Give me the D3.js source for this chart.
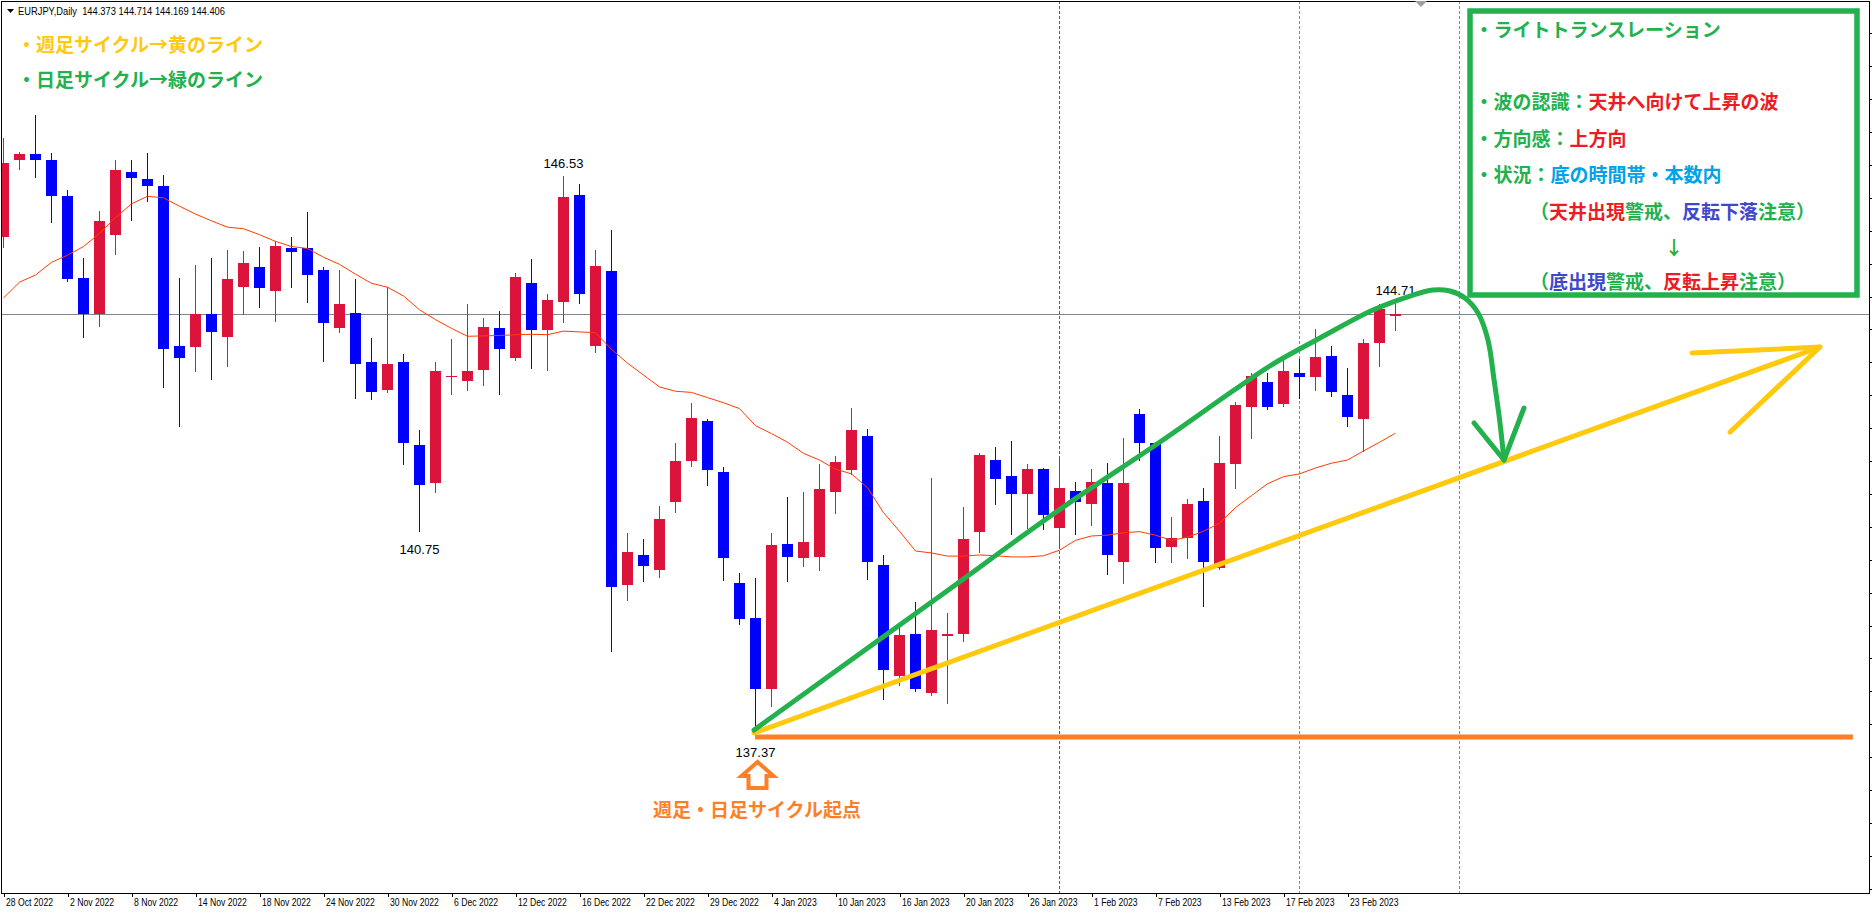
<!DOCTYPE html>
<html><head><meta charset="utf-8">
<script src="https://cdn.jsdelivr.net/npm/d3@7/dist/d3.min.js"></script>
<style>
html,body{margin:0;padding:0;background:#fff;overflow:hidden}
svg{display:block}
.jp{font-family:"Noto Sans CJK JP","Noto Sans CJK SC",sans-serif;font-weight:700;font-size:19px}
.small{font-family:"Liberation Sans",Arial,sans-serif;font-size:11px;fill:#000;white-space:pre}
.lbl{font-family:"Liberation Sans",Arial,sans-serif;font-size:13px;fill:#000}
</style></head><body>
<svg id="chart" width="1872" height="914"></svg>
<script>
// ---------------- data ----------------
const opens = [145.520,146.785,146.883,146.792,146.201,144.858,144.267,145.565,146.597,146.480,
146.363,143.741,143.715,144.267,143.891,144.708,145.039,144.644,145.338,145.338,
144.988,144.040,144.280,143.475,143.021,143.475,142.112,141.483,143.235,143.157,
143.339,144.027,143.534,144.773,144.008,144.468,146.221,143.741,144.968,139.821,
140.308,140.068,141.171,141.853,142.508,141.671,139.847,139.276,138.115,140.490,
140.250,140.269,141.347,141.697,142.262,140.146,138.316,139.010,138.037,138.971,
139.004,140.678,141.866,141.600,141.301,141.723,140.743,141.360,141.139,141.489,
140.198,142.625,142.145,140.445,140.587,141.197,140.101,141.794,142.729,143.151,
142.781,143.287,143.235,143.573,142.937,142.547,143.793,144.222];
const highs = [147.155,146.915,147.532,146.909,146.299,145.182,145.948,146.792,146.792,146.909,
146.545,144.858,145.065,145.182,145.319,145.299,145.364,145.455,145.526,145.942,
145.039,144.988,144.838,143.871,144.702,143.605,142.359,143.475,143.852,144.429,
144.196,144.306,144.936,145.169,144.592,146.530,146.396,145.319,145.643,140.672,
140.574,141.113,142.145,142.807,142.541,141.756,140.016,139.932,140.672,141.262,
141.340,141.801,141.937,142.723,142.372,140.302,139.108,139.536,141.574,139.354,
141.100,141.976,142.087,142.177,141.801,141.740,141.892,141.509,141.723,141.814,
142.229,142.703,142.158,140.925,141.230,141.412,142.268,142.820,143.287,143.300,
143.521,143.521,144.021,143.741,143.378,143.845,144.429,144.449];
const lows = [145.370,146.636,146.506,145.779,144.812,143.878,144.072,145.254,145.799,146.110,
143.060,142.417,143.320,143.203,143.410,144.267,144.377,144.150,144.708,144.462,
143.495,143.962,142.885,142.872,142.989,141.794,140.700,141.347,142.950,143.015,
143.099,142.956,143.508,143.372,143.339,144.137,144.436,143.644,138.738,139.575,
139.873,139.951,141.016,141.762,141.463,139.899,139.172,137.370,137.829,139.873,
140.133,140.068,140.990,141.632,139.919,137.952,138.180,138.082,138.017,137.874,
138.893,140.360,141.139,140.652,140.750,140.730,140.438,140.646,140.808,139.997,
139.841,141.859,140.198,140.198,140.256,139.465,140.081,141.399,142.223,142.710,
142.761,142.885,143.021,142.917,142.430,142.015,143.410,144.008];
const closes = [146.733,146.883,146.785,146.195,144.838,144.261,145.792,146.630,146.487,146.357,
143.696,143.534,144.267,143.962,144.838,145.104,144.689,145.383,145.286,144.903,
144.118,144.429,143.443,142.976,143.443,142.138,141.451,143.333,143.248,143.333,
144.053,143.696,144.871,143.995,144.494,146.188,144.585,145.052,139.789,140.360,
140.120,140.899,141.853,142.560,141.697,140.250,139.257,138.115,140.470,140.269,
140.522,141.392,141.833,142.359,140.185,138.413,138.997,138.102,139.075,139.004,
140.574,141.944,141.548,141.314,141.723,140.957,141.412,141.171,141.502,140.315,
141.489,142.138,140.419,140.587,141.145,140.198,141.820,142.774,143.248,142.742,
143.333,143.235,143.560,142.976,142.567,143.787,144.345,144.261];
const maValues = [144.527,144.786,144.903,145.111,145.228,145.370,145.585,145.844,146.071,146.195,
146.169,146.032,145.903,145.792,145.688,145.662,145.565,145.455,145.370,145.338,
145.195,145.078,144.916,144.767,144.702,144.559,144.332,144.170,144.027,143.897,
143.904,143.910,143.923,143.930,143.923,143.982,143.969,143.956,143.683,143.456,
143.261,143.066,142.995,142.976,142.891,142.807,142.710,142.430,142.301,142.158,
141.976,141.866,141.717,141.639,141.412,141.003,140.698,140.373,140.341,140.289,
140.289,140.308,140.295,140.276,140.276,140.295,140.386,140.548,140.620,140.633,
140.672,140.691,140.633,140.548,140.600,140.698,140.827,141.087,141.282,141.476,
141.593,141.639,141.736,141.814,141.866,142.015,142.158,142.307];
const dateLabels = ["28 Oct 2022","2 Nov 2022","8 Nov 2022","14 Nov 2022","18 Nov 2022","24 Nov 2022",
"30 Nov 2022","6 Dec 2022","12 Dec 2022","16 Dec 2022","22 Dec 2022","29 Dec 2022","4 Jan 2023",
"10 Jan 2023","16 Jan 2023","20 Jan 2023","26 Jan 2023","1 Feb 2023","7 Feb 2023","13 Feb 2023",
"17 Feb 2023","23 Feb 2023"];
const priceTicks = [148.87,148.33,147.79,147.25,146.71,146.17,145.63,145.09,144.55,144.01,143.47,142.93,
142.39,141.85,141.31,140.77,140.23,139.69,139.15,138.61,138.07,137.53,136.99,136.45,135.91,135.37,134.83];
const headerText = "EURJPY,Daily  144.373 144.714 144.169 144.406";
const markerBars = [66, 81, 91];
const markerKinds = ["red", "cyan", "cyan"];
const priceLabels = [["146.53", 35, "high"], ["140.75", 26, "low"], ["137.37", 47, "low"], ["144.71", 87, "high"]];
// hand-drawn annotations, in (bar index, price)
const greenWave = [[46.91,137.435],[58.53,139.635],[65.97,141.046],[72.28,142.162],[77.28,143.081],
[79.34,143.442],[82.28,143.869],[85.59,144.328],[87.91,144.558],[89.34,144.657],[90.41,144.640],
[91.34,144.525],[92.16,144.279],[92.78,143.836],[93.16,143.180],[93.53,142.474],[93.78,141.867]];
const greenHead = [[91.91,142.474],[93.78,141.867],[95.03,142.720]];
const yellowLine = [[46.91,137.386],[113.53,143.721]];
const yellowHead = [[105.53,143.623],[113.53,143.721],[107.91,142.326]];
const orangeLine = [[46.97,137.320],[115.59,137.320]];

// ---------------- colors ----------------
const G='#22B14C', R='#ED1C24', B='#3F48CC', S='#00A2E8', Y='#FFC90E', O='#FF7F27';
const UP='#DC143C', DN='#0000FF';

// ---------------- scales ----------------
const svg = d3.select('#chart');
const x = d3.scaleLinear().domain([0, 87]).range([3.5, 1395.5]);
const y = d3.scaleLinear().domain([134.76, 149.40]).range([893, 1]);
const plotL = 2, plotR = 1869, plotT = 1, plotB = 893;

svg.append('rect').attr('width',1872).attr('height',914).attr('fill','#fff');
svg.append('defs').append('clipPath').attr('id','plot').append('rect')
  .attr('x',plotL).attr('y',plotT).attr('width',plotR-plotL).attr('height',plotB-plotT);
const plot = svg.append('g').attr('clip-path','url(#plot)');

// vertical marker lines
plot.selectAll('line.vm').data(markerBars).join('line').attr('class','vm')
  .attr('x1',d=>x(d)).attr('x2',d=>x(d)).attr('y1',plotT).attr('y2',plotB)
  .attr('stroke',(d,i)=>markerKinds[i]==='red'?'#E3262B':'#1AAEEA')
  .attr('stroke-width',1).attr('stroke-dasharray','3,2').attr('shape-rendering','crispEdges');

// bid line
const bidY = Math.round(y(closes[closes.length-1])) + 0.5;
plot.append('line').attr('x1',plotL).attr('x2',plotR).attr('y1',bidY).attr('y2',bidY)
  .attr('stroke','#7d8790').attr('stroke-width',1).attr('shape-rendering','crispEdges');

// candles
const idx = d3.range(opens.length);
const cg = plot.append('g').attr('shape-rendering','crispEdges');
cg.selectAll('line.w').data(idx).join('line').attr('class','w')
  .attr('x1',i=>x(i)).attr('x2',i=>x(i))
  .attr('y1',i=>Math.round(y(highs[i]))).attr('y2',i=>Math.round(y(lows[i]))+1)
  .attr('stroke',i=>closes[i]>=opens[i]?UP:DN).attr('stroke-width',1);
cg.selectAll('rect.b').data(idx).join('rect').attr('class','b')
  .attr('x',i=>x(i)-5.5).attr('width',11)
  .attr('y',i=>Math.round(y(Math.max(opens[i],closes[i]))))
  .attr('height',i=>Math.max(1,Math.round(y(Math.min(opens[i],closes[i])))-Math.round(y(Math.max(opens[i],closes[i])))))
  .attr('fill',i=>closes[i]>=opens[i]?UP:DN);

// moving average
plot.append('path').datum(idx)
  .attr('d', d3.line().x(i=>x(i)).y(i=>y(maValues[i])))
  .attr('fill','none').attr('stroke','#FF3C00').attr('stroke-width',1);

// price labels
priceLabels.forEach(([t,i,k])=>{
  const yy = k==='high' ? y(highs[i]) - 8 : y(lows[i]) + 23;
  svg.append('text').attr('class','lbl').attr('x',x(i)).attr('y',yy).attr('text-anchor','middle').text(t);
});

// annotation lines
const pl = d3.line().x(d=>x(d[0])).y(d=>y(d[1]));
const ann = svg.append('g').attr('fill','none').attr('stroke-linecap','round').attr('stroke-linejoin','round');
ann.append('path').datum(orangeLine).attr('d',pl).attr('stroke',O).attr('stroke-width',5).attr('stroke-linecap','butt');
ann.append('path').datum(yellowLine).attr('d',pl).attr('stroke',Y).attr('stroke-width',5);
ann.append('path').datum(yellowHead).attr('d',pl).attr('stroke',Y).attr('stroke-width',5);
ann.append('path').datum(greenWave).attr('d',d3.line().x(d=>x(d[0])).y(d=>y(d[1])).curve(d3.curveCatmullRom.alpha(0.5)))
  .attr('stroke',G).attr('stroke-width',5);
ann.append('path').datum(greenHead).attr('d',pl).attr('stroke',G).attr('stroke-width',5);

// orange up arrow under the starting point
const ax = x(47) + 2, ay = y(lows[47]);
svg.append('path')
  .attr('d',`M${ax},${ay+28} L${ax-16},${ay+42} L${ax-9},${ay+42} L${ax-9},${ay+54} L${ax+9},${ay+54} L${ax+9},${ay+42} L${ax+16},${ay+42} Z`)
  .attr('fill','#fff').attr('stroke',O).attr('stroke-width',4).attr('stroke-linejoin','miter');
svg.append('text').attr('class','jp').attr('x',653).attr('y',817).attr('fill',O).text('週足・日足サイクル起点');

// frame and axes
const frame = svg.append('g').attr('shape-rendering','crispEdges').attr('stroke','#000').attr('stroke-width',1);
frame.append('line').attr('x1',1.5).attr('x2',1.5).attr('y1',1).attr('y2',plotB);
frame.append('line').attr('x1',1).attr('x2',plotR).attr('y1',1.5).attr('y2',1.5);
frame.append('line').attr('x1',plotR+0.5).attr('x2',plotR+0.5).attr('y1',1).attr('y2',plotB+1);
frame.append('line').attr('x1',1).attr('x2',plotR+1).attr('y1',plotB+0.5).attr('y2',plotB+0.5);

const xAxis = svg.append('g').attr('transform',`translate(0,${plotB})`)
  .call(d3.axisBottom(x).tickValues(d3.range(0, 88, 4)).tickSize(4).tickSizeOuter(0)
    .tickFormat((d,k)=>dateLabels[k]));
xAxis.select('.domain').remove();
xAxis.selectAll('.tick line').attr('stroke','#000').attr('shape-rendering','crispEdges');
const tickTexts = xAxis.selectAll('.tick text').attr('class','small').attr('text-anchor','start')
  .attr('x',2).attr('y',5).attr('dy','0.71em').attr('fill','#000')
  .style('font-family','"Liberation Sans",Arial,sans-serif').style('font-size','11px');
const refLen = tickTexts.nodes()[0].getComputedTextLength();
const squeeze = 47 / refLen;
tickTexts.each(function(){
  const L = this.getComputedTextLength();
  d3.select(this).attr('textLength', L*squeeze).attr('lengthAdjust','spacingAndGlyphs');
});

const yAxis = svg.append('g').attr('transform',`translate(${plotR},0)`)
  .call(d3.axisRight(y).tickValues(priceTicks).tickSize(4).tickFormat(''));
yAxis.select('.domain').remove();
yAxis.selectAll('.tick line').attr('stroke','#000').attr('shape-rendering','crispEdges');

// chart shift marker
svg.append('path').attr('d','M1415,1 L1427,1 L1421,7 Z').attr('fill','#a0a0a0');

// header
svg.append('path').attr('d','M7,9 L14,9 L10.5,13 Z').attr('fill','#000');
svg.append('text').attr('class','small').attr('x',18).attr('y',15)
  .attr('textLength',207).attr('lengthAdjust','spacingAndGlyphs').text(headerText);

// top-left legend
svg.append('text').attr('class','jp').attr('x',17).attr('y',52).attr('fill',Y).text('・週足サイクル→黄のライン');
svg.append('text').attr('class','jp').attr('x',17).attr('y',87).attr('fill',G).text('・日足サイクル→緑のライン');

// info box
svg.append('rect').attr('x',1470).attr('y',11).attr('width',387).attr('height',284)
  .attr('fill','#fff').attr('stroke',G).attr('stroke-width',5.5);
const boxLines = [
  {x:1474.5, y:37, anchor:'start', segs:[['・ライトトランスレーション',G]]},
  {x:1474.5, y:109, anchor:'start', segs:[['・波の認識：',G],['天井へ向けて上昇の波',R]]},
  {x:1474.5, y:145.5, anchor:'start', segs:[['・方向感：',G],['上方向',R]]},
  {x:1474.5, y:182, anchor:'start', segs:[['・状況：',G],['底の時間帯・本数内',S]]},
  {x:1530, y:219, anchor:'start', segs:[['（',G],['天井出現',R],['警戒、',G],['反転下落',B],['注意）',G]]},
  {x:1674, y:255, anchor:'middle', segs:[['↓',G]]},
  {x:1530, y:289, anchor:'start', segs:[['（',G],['底出現',B],['警戒、',G],['反転上昇',R],['注意）',G]]}
];
boxLines.forEach(l=>{
  const t = svg.append('text').attr('class','jp').attr('x',l.x).attr('y',l.y).attr('text-anchor',l.anchor);
  l.segs.forEach(([s,c])=>t.append('tspan').attr('fill',c).text(s));
});
</script>
</body></html>
